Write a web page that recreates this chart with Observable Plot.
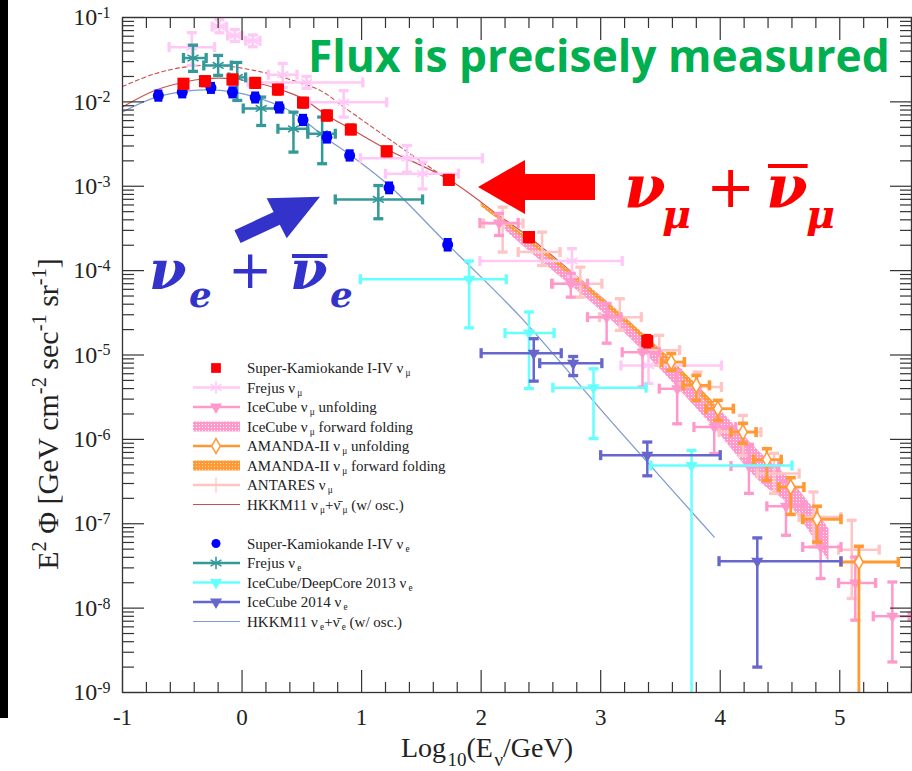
<!DOCTYPE html>
<html>
<head>
<meta charset="utf-8">
<script src="https://cdn.jsdelivr.net/npm/d3@7"></script>
<script src="https://cdn.jsdelivr.net/npm/@observablehq/plot@0.6"></script>
<style>
  html, body { margin: 0; padding: 0; background: #fff; }
  #wrap { position: relative; width: 912px; height: 771px; overflow: hidden; }
  #bar { position: absolute; left: 0; top: 0; width: 8px; height: 718px; background: #000; }
</style>
</head>
<body>
<svg width="0" height="0" style="position:absolute">
  <defs>
    <pattern id="pinkHatch" width="3" height="3" patternUnits="userSpaceOnUse">
      <rect width="3" height="3" fill="#ff99cc"></rect>
      <rect x="1" y="1" width="1" height="1" fill="#ffffff"></rect>
    </pattern>
    <pattern id="orangeHatch" width="3" height="3" patternUnits="userSpaceOnUse">
      <rect width="3" height="3" fill="#ff9933"></rect>
      <rect x="1" y="1" width="1" height="1" fill="#ffd9b3"></rect>
    </pattern>
  </defs>
</svg>
<div id="wrap"><div id="bar"></div></div>
<script>
// ---------------- axes ----------------
const xMajor = [-1, 0, 1, 2, 3, 4, 5];
const xTickLabels = ["-1", "0", "1", "2", "3", "4", "5"];
const yMajor = [1e-1, 1e-2, 1e-3, 1e-4, 1e-5, 1e-6, 1e-7, 1e-8, 1e-9];
const yTickExponents = ["-1", "-2", "-3", "-4", "-5", "-6", "-7", "-8", "-9"];

// ---------------- Super-Kamiokande I-IV nu_mu ----------------
const skMuX   = [-0.49, -0.31, -0.08, 0.11, 0.30, 0.51, 0.71, 0.91, 1.21, 1.73, 2.40, 3.39];
const skMuY   = [1.64e-2, 1.76e-2, 1.84e-2, 1.68e-2, 1.40e-2, 9.8e-3, 6.9e-3, 4.7e-3, 2.6e-3, 1.19e-3, 2.5e-4, 1.46e-5];
const skMuLo  = [1.45e-2, 1.56e-2, 1.63e-2, 1.49e-2, 1.24e-2, 8.7e-3, 6.1e-3, 4.2e-3, 2.3e-3, 1.06e-3, 2.2e-4, 1.25e-5];
const skMuHi  = [1.84e-2, 1.98e-2, 2.07e-2, 1.89e-2, 1.57e-2, 1.10e-2, 7.8e-3, 5.3e-3, 2.9e-3, 1.33e-3, 2.8e-4, 1.70e-5];

// ---------------- Frejus nu_mu ----------------
const frMuX   = [-0.42, -0.19, -0.06, 0.09, 0.34, 0.54, 0.85, 1.38, 1.51, 2.76, 3.40];
const frMuY   = [4.45e-2, 7.8e-2, 6.1e-2, 5.3e-2, 2.1e-2, 1.7e-2, 9.9e-3, 2.15e-3, 1.41e-3, 1.30e-4, 7.5e-6];
const frMuXlo = [-0.61, -0.25, -0.12, 0.03, 0.22, 0.05, 0.56, 0.99, 1.20, 1.99, 3.17];
const frMuXhi = [-0.23, -0.13, 0.00, 0.15, 0.46, 1.01, 1.21, 2.01, 1.81, 3.18, 4.01];
const frMuYlo = [2.7e-2, 6.6e-2, 5.2e-2, 4.5e-2, 1.48e-2, 1.45e-2, 6.6e-3, 1.47e-3, 9.3e-4, 8.5e-5, 4.6e-6];
const frMuYhi = [6.6e-2, 9.4e-2, 7.2e-2, 6.2e-2, 2.85e-2, 2.0e-2, 1.36e-2, 3.04e-3, 1.93e-3, 1.82e-4, 1.12e-5];

// ---------------- IceCube nu_mu unfolding ----------------
const icUnfX   = [2.15, 2.75, 3.05, 3.35, 3.64, 3.95, 4.24, 4.55, 4.84, 5.13, 5.44];
const icUnfY   = [3.67e-4, 7.0e-5, 2.81e-5, 1.08e-5, 3.99e-6, 1.40e-6, 4.82e-7, 1.61e-7, 5.3e-8, 1.99e-8, 8.0e-9];
const icUnfXlo = [1.99, 2.59, 2.89, 3.18, 3.49, 3.78, 4.09, 4.39, 4.69, 4.99, 5.28];
const icUnfXhi = [2.31, 2.89, 3.17, 3.49, 3.83, 4.13, 4.49, 4.70, 5.01, 5.30, 5.58];
const icUnfYlo = [2.61e-4, 4.85e-5, 1.38e-5, 4.17e-6, 1.53e-6, 6.8e-7, 2.29e-7, 7.3e-8, 2.24e-8, 7.2e-9, 2.30e-9];
const icUnfYhi = [4.77e-4, 9.3e-5, 4.08e-5, 1.37e-5, 6.58e-6, 2.21e-6, 8.73e-7, 3.12e-7, 8.4e-8, 4.04e-8, 2.04e-8];

// ---------------- IceCube nu_mu forward folding (band) ----------------
const icFfX  = [2.20, 2.47, 3.10, 3.91, 4.33, 4.58, 4.91];
const icFfY1 = [3.72e-4, 2.00e-4, 3.80e-5, 3.02e-6, 7.08e-7, 3.39e-7, 8.71e-8];
const icFfY2 = [3.02e-4, 1.41e-4, 2.51e-5, 1.58e-6, 3.16e-7, 1.66e-7, 3.55e-8];

// ---------------- AMANDA-II nu_mu unfolding ----------------
const amUnfX   = [3.59, 3.80, 3.98, 4.19, 4.39, 4.59, 4.81, 5.16];
const amUnfY   = [8.24e-6, 4.37e-6, 2.31e-6, 1.22e-6, 5.75e-7, 2.72e-7, 1.13e-7, 3.52e-8];
const amUnfXlo = [3.51, 3.69, 3.88, 4.09, 4.28, 4.49, 4.69, 5.01];
const amUnfXhi = [3.70, 3.91, 4.11, 4.30, 4.51, 4.70, 5.01, 5.49];
const amUnfYlo = [6.58e-6, 2.90e-6, 1.68e-6, 8.97e-7, 3.27e-7, 1.29e-7, 6.07e-8, 1e-10];
const amUnfYhi = [1.04e-5, 5.73e-6, 2.90e-6, 1.55e-6, 7.76e-7, 3.52e-7, 1.61e-7, 5.40e-8];

// ---------------- AMANDA-II nu_mu forward folding (band) ----------------
const amFfX  = [2.00, 2.50, 3.00, 3.50, 3.95];
const amFfY1 = [6.31e-4, 1.86e-4, 4.90e-5, 1.17e-5, 2.75e-6];
const amFfY2 = [5.75e-4, 1.66e-4, 4.27e-5, 1.00e-5, 2.24e-6];

// ---------------- ANTARES nu_mu ----------------
const antX   = [2.18, 2.51, 2.83, 3.16, 3.49, 3.81, 4.19, 4.45, 4.78, 5.10];
const antY   = [3.62e-4, 1.66e-4, 7.0e-5, 2.81e-5, 1.14e-5, 4.17e-6, 1.22e-6, 3.93e-7, 1.20e-7, 4.93e-8];
const antXlo = [2.02, 2.31, 2.60, 2.99, 3.33, 3.66, 3.99, 4.31, 4.66, 4.99];
const antXhi = [2.35, 2.66, 3.01, 3.34, 3.66, 4.01, 4.34, 4.66, 5.01, 5.33];
const antYlo = [1.66e-4, 1.15e-4, 4.85e-5, 1.96e-5, 7.53e-6, 2.90e-6, 6.46e-7, 2.29e-7, 5.30e-8, 1.30e-8];
const antYhi = [5.65e-4, 2.86e-4, 1.10e-4, 4.65e-5, 1.71e-5, 6.27e-6, 1.92e-6, 6.82e-7, 2.38e-7, 1.10e-7];

// ---------------- HKKM11 nu_mu + anti-nu_mu ----------------
const hkkmMuX = [-1.0, -0.73, -0.49, -0.31, -0.08, 0.10, 0.30, 0.51, 0.71, 0.91, 1.21, 1.73, 2.16, 2.40, 3.10, 3.50, 4.00];
const hkkmMuY = [8.71e-3, 1.365e-2, 1.71e-2, 1.88e-2, 1.88e-2, 1.71e-2, 1.43e-2, 1.09e-2, 6.9e-3, 4.8e-3, 2.75e-3, 1.20e-3, 4.37e-4, 2.51e-4, 3.55e-5, 9.3e-6, 2.0e-6];
// dashed companion curve at low energy
const hkkmMuDashX = [-1.0, -0.73, -0.45, -0.18, 0.10, 0.38, 0.66, 0.85, 1.19, 1.41, 1.66, 1.73];
const hkkmMuDashY = [1.52e-2, 2.15e-2, 2.62e-2, 2.70e-2, 2.36e-2, 1.88e-2, 1.35e-2, 8.7e-3, 3.98e-3, 2.40e-3, 1.38e-3, 1.20e-3];

// ---------------- Super-Kamiokande I-IV nu_e ----------------
const skEX  = [-0.70, -0.50, -0.26, -0.08, 0.11, 0.31, 0.51, 0.71, 0.90, 1.23, 1.72];
const skEY  = [1.19e-2, 1.30e-2, 1.47e-2, 1.30e-2, 1.13e-2, 8.6e-3, 6.1e-3, 3.8e-3, 2.32e-3, 9.6e-4, 2.03e-4];
const skELo = [1.05e-2, 1.15e-2, 1.30e-2, 1.15e-2, 1.00e-2, 7.6e-3, 5.4e-3, 3.35e-3, 2.05e-3, 8.4e-4, 1.76e-4];
const skEHi = [1.34e-2, 1.46e-2, 1.65e-2, 1.46e-2, 1.27e-2, 9.7e-3, 6.9e-3, 4.3e-3, 2.62e-3, 1.09e-3, 2.33e-4];

// ---------------- Frejus nu_e ----------------
const frEX   = [-0.41, -0.20, -0.04, 0.16, 0.43, 0.67, 1.14];
const frEY   = [3.31e-2, 2.70e-2, 1.95e-2, 8.35e-3, 4.8e-3, 4.19e-3, 6.98e-4];
const frEXlo = [-0.49, -0.32, -0.11, 0.01, 0.30, 0.55, 0.78];
const frEXhi = [-0.30, -0.09, 0.03, 0.34, 0.55, 0.78, 1.51];
const frEYlo = [2.3e-2, 2.06e-2, 1.04e-2, 5.25e-3, 2.54e-3, 1.85e-3, 4.12e-4];
const frEYhi = [4.7e-2, 3.55e-2, 2.93e-2, 1.14e-2, 7.55e-3, 6.6e-3, 1.02e-3];

// ---------------- IceCube/DeepCore 2013 nu_e ----------------
const dcX   = [1.90, 2.40, 2.94, 3.76];
const dcY   = [7.9e-5, 1.82e-5, 4.1e-6, 4.9e-7];
const dcXlo = [0.99, 2.20, 2.60, 3.42];
const dcXhi = [2.21, 2.61, 3.38, 4.60];
const dcYlo = [2.1e-5, 4.0e-6, 1.02e-6, 1e-10];
const dcYhi = [1.30e-4, 3.24e-5, 6.87e-6, 7.4e-7];

// ---------------- IceCube 2014 nu_e ----------------
const ic14X   = [2.44, 2.77, 3.39, 4.31];
const ic14Y   = [1.05e-5, 8.0e-6, 6.5e-7, 3.6e-8];
const ic14Xlo = [2.00, 2.49, 3.00, 3.99];
const ic14Xhi = [2.67, 3.01, 4.00, 5.01];
const ic14Ylo = [4.9e-6, 5.7e-6, 3.7e-7, 2.0e-9];
const ic14Yhi = [1.56e-5, 9.6e-6, 9.3e-7, 6.8e-8];

// ---------------- HKKM11 nu_e + anti-nu_e ----------------
const hkkmEX = [-1.0, -0.73, -0.45, -0.18, 0.10, 0.38, 0.52, 0.71, 0.91, 1.23, 1.71, 2.33, 3.08, 3.66, 3.95];
const hkkmEY = [7.59e-3, 1.12e-2, 1.35e-2, 1.365e-2, 1.15e-2, 8.13e-3, 6.03e-3, 3.66e-3, 2.32e-3, 1.02e-3, 2.12e-4, 2.81e-5, 1.68e-6, 2.0e-7, 6.95e-8];

// ---------------- colours ----------------
const C = {
  skMu: "#ff0000", frMu: "#ffc8f6", icUnf: "#ff99cc", icFf: "#ff99cc",
  amUnf: "#ff9933", amFf: "#ff9933", ant: "#ffc4c4", hkkmMu: "#c85050",
  skE: "#0000ff", frE: "#339999", dc: "#66ffff", ic14: "#6666cc", hkkmE: "#7f9bd0"
};

// ---------------- helpers ----------------
const rows = (x, y, xlo, xhi, ylo, yhi) =>
  x.map((v, i) => ({x: v, y: y[i], xlo: xlo ? xlo[i] : null, xhi: xhi ? xhi[i] : null,
                    ylo: ylo ? ylo[i] : null, yhi: yhi ? yhi[i] : null}));
const capV = {draw(ctx, size) { const h = Math.sqrt(size / Math.PI); ctx.moveTo(0, -h); ctx.lineTo(0, h); }};
const capH = {draw(ctx, size) { const h = Math.sqrt(size / Math.PI); ctx.moveTo(-h, 0); ctx.lineTo(h, 0); }};

function errorMarks(data, color, w = 2.5, cap = 5) {
  const hx = data.filter(d => d.xlo != null);
  const hy = data.filter(d => d.ylo != null);
  const s = {stroke: color, strokeWidth: w, clip: true};
  return [
    Plot.ruleY(hx, {y: "y", x1: "xlo", x2: "xhi", ...s}),
    Plot.ruleX(hy, {x: "x", y1: "ylo", y2: "yhi", ...s}),
    Plot.dot(hx, {x: "xlo", y: "y", symbol: capV, r: cap, ...s, strokeWidth: w + 0.8}),
    Plot.dot(hx, {x: "xhi", y: "y", symbol: capV, r: cap, ...s, strokeWidth: w + 0.8}),
    Plot.dot(hy, {x: "x", y: "ylo", symbol: capH, r: cap, ...s, strokeWidth: w + 0.8}),
    Plot.dot(hy, {x: "x", y: "yhi", symbol: capH, r: cap, ...s, strokeWidth: w + 0.8})
  ];
}

const skMu = rows(skMuX, skMuY, null, null, skMuLo, skMuHi);
const frMu = rows(frMuX, frMuY, frMuXlo, frMuXhi, frMuYlo, frMuYhi);
const icUnf = rows(icUnfX, icUnfY, icUnfXlo, icUnfXhi, icUnfYlo, icUnfYhi);
const amUnf = rows(amUnfX, amUnfY, amUnfXlo, amUnfXhi, amUnfYlo, amUnfYhi);
const ant = rows(antX, antY, antXlo, antXhi, antYlo, antYhi);
const skE = rows(skEX, skEY, null, null, skELo, skEHi);
const frE = rows(frEX, frEY, frEXlo, frEXhi, frEYlo, frEYhi);
const dc = rows(dcX, dcY, dcXlo, dcXhi, dcYlo, dcYhi);
const ic14 = rows(ic14X, ic14Y, ic14Xlo, ic14Xhi, ic14Ylo, ic14Yhi);
const icFf = icFfX.map((x, i) => ({x, y1: icFfY1[i], y2: icFfY2[i]}));
const amFf = amFfX.map((x, i) => ({x, y1: amFfY1[i], y2: amFfY2[i]}));
const hkkmMu = hkkmMuX.map((x, i) => ({x, y: hkkmMuY[i]}));
const hkkmMuDash = hkkmMuDashX.map((x, i) => ({x, y: hkkmMuDashY[i]}));
const hkkmE = hkkmEX.map((x, i) => ({x, y: hkkmEY[i]}));

// minor tick positions
const xMinor = d3.range(-1, 5.61, 0.2).map(v => +v.toFixed(1)).filter(v => !xMajor.includes(v));
const yMinor = d3.range(-9, -1).flatMap(e => d3.range(2, 10).map(m => m * Math.pow(10, e)));

const tickStyle = {stroke: "#333", strokeWidth: 1.2, label: null, tickFormat: () => ""};

const plot = Plot.plot({
  width: 912, height: 771,
  marginLeft: 122, marginRight: 1, marginTop: 17, marginBottom: 79,
  style: {fontFamily: "'Liberation Serif', serif", background: "transparent", color: "#222"},
  x: {domain: [-1, 5.6]},
  y: {type: "log", domain: [1e-9, 1e-1]},
  marks: [
    // theory curves
    Plot.line(hkkmMuDash, {x: "x", y: "y", stroke: C.hkkmMu, strokeWidth: 1.1, strokeDasharray: "4,3", curve: "catmull-rom"}),
    Plot.line(hkkmE, {x: "x", y: "y", stroke: C.hkkmE, strokeWidth: 1.3, curve: "catmull-rom"}),
    Plot.line(hkkmMu, {x: "x", y: "y", stroke: C.hkkmMu, strokeWidth: 1.2, curve: "catmull-rom"}),
    // forward-folding bands
    Plot.areaY(icFf, {x: "x", y1: "y1", y2: "y2", fill: "url(#pinkHatch)", curve: "catmull-rom"}),
    Plot.areaY(amFf, {x: "x", y1: "y1", y2: "y2", fill: "url(#orangeHatch)", curve: "catmull-rom"}),
    // Frejus nu_mu
    ...errorMarks(frMu, C.frMu, 2.5, 5),
    Plot.dot(frMu, {x: "x", y: "y", symbol: "asterisk", r: 6, stroke: C.frMu, strokeWidth: 1.6}),
    // ANTARES
    ...errorMarks(ant, C.ant, 2.5, 5),
    Plot.dot(ant, {x: "x", y: "y", symbol: "plus", r: 5, stroke: C.ant, strokeWidth: 1.5}),
    // IceCube unfolding
    ...errorMarks(icUnf, C.icUnf, 2.5, 5),
    Plot.dot(icUnf, {x: "x", y: "y", symbol: "triangle", rotate: 180, r: 4.5, fill: C.icUnf}),
    // AMANDA-II unfolding
    ...errorMarks(amUnf, C.amUnf, 2.8, 5),
    Plot.dot(amUnf, {x: "x", y: "y", symbol: "diamond", r: 4.5, fill: "white", stroke: C.amUnf, strokeWidth: 1.5}),
    // Frejus nu_e
    ...errorMarks(frE, C.frE, 2.5, 5),
    Plot.dot(frE, {x: "x", y: "y", symbol: "asterisk", r: 6, stroke: C.frE, strokeWidth: 1.6}),
    // IceCube/DeepCore 2013
    ...errorMarks(dc, C.dc, 2.5, 5),
    Plot.dot(dc, {x: "x", y: "y", symbol: "triangle", rotate: 180, r: 4.5, fill: C.dc}),
    // IceCube 2014
    ...errorMarks(ic14, C.ic14, 2.5, 5),
    Plot.dot(ic14, {x: "x", y: "y", symbol: "triangle", rotate: 180, r: 4.5, fill: C.ic14}),
    // Super-K nu_e
    ...errorMarks(skE, C.skE, 2.5, 4),
    Plot.dot(skE, {x: "x", y: "y", symbol: "circle", r: 5.5, fill: C.skE}),
    // Super-K nu_mu
    ...errorMarks(skMu, C.skMu, 2.5, 4),
    Plot.dot(skMu, {x: "x", y: "y", symbol: "square", r: 6.8, fill: C.skMu}),
    // frame and ticks
    Plot.frame({stroke: "#333", strokeWidth: 1.3}),
    Plot.axisX({anchor: "bottom", ticks: xMajor, tickSize: -22, ...tickStyle}),
    Plot.axisX({anchor: "bottom", ticks: xMinor, tickSize: -10, ...tickStyle}),
    Plot.axisX({anchor: "top", ticks: xMajor, tickSize: -22, ...tickStyle}),
    Plot.axisX({anchor: "top", ticks: xMinor, tickSize: -10, ...tickStyle}),
    Plot.axisY({anchor: "left", ticks: yMajor, tickSize: -22, ...tickStyle}),
    Plot.axisY({anchor: "left", ticks: yMinor, tickSize: -12, ...tickStyle}),
    Plot.axisY({anchor: "right", ticks: yMajor, tickSize: -22, ...tickStyle}),
    Plot.axisY({anchor: "right", ticks: yMinor, tickSize: -12, ...tickStyle}),
    // tick labels
    Plot.axisX({anchor: "bottom", ticks: xMajor, tickSize: 0, tickPadding: 16, fontSize: 23, label: null,
                tickFormat: d => xTickLabels[xMajor.indexOf(d)]}),
    Plot.axisY({anchor: "left", ticks: yMajor, tickSize: 0, tickPadding: 12, fontSize: 24, label: null,
                tickFormat: d => "10^" + yTickExponents[yMajor.indexOf(d)]})
  ]
});

document.getElementById("wrap").prepend(plot);

// superscript exponents on the y tick labels
const NS = "http://www.w3.org/2000/svg";
plot.querySelectorAll('[aria-label="y-axis tick label"] text').forEach(t => {
  const [base, exp] = t.textContent.split("^");
  if (exp === undefined) return;
  t.textContent = base;
  const s = document.createElementNS(NS, "tspan");
  s.setAttribute("dy", "-0.45em");
  s.setAttribute("font-size", "16");
  s.textContent = exp;
  t.appendChild(s);
});

const svg = d3.select(plot);

// rich text helper: parts = [[text, "sub"|"sup"|null], ...]
function richText(g, parts, x, y, size, attrs = {}, opt = {}) {
  const {subShift = 0.32, supShift = 0.4, scale = 0.68, subGap = 0.1} = opt;
  const t = g.append("text").attr("x", x).attr("y", y).attr("font-size", size).attr("text-anchor", "start");
  Object.entries(attrs).forEach(([k, v]) => t.attr(k, v));
  let shift = 0;
  parts.forEach(([txt, kind]) => {
    const target = kind === "sub" ? subShift * size : kind === "sup" ? -supShift * size : 0;
    const sp = t.append("tspan").text(txt).attr("dy", target - shift);
    if (kind) sp.attr("font-size", scale * size).attr("dx", kind === "sub" ? subGap * size : 0);
    shift = target;
  });
  return t;
}

// axis titles
richText(svg, [["Log", null], ["10", "sub"], ["(E", null], ["ν", "sub"], ["/GeV)", null]], 487, 757, 28,
  {"text-anchor": "middle", "font-family": "'Liberation Serif', serif", fill: "#222"}, {subGap: 0.05});
const yt = svg.append("g").attr("transform", "translate(58,414) rotate(-90)");
richText(yt, [["E", null], ["2", "sup"], [" Φ [GeV cm", null], ["-2", "sup"], [" sec", null], ["-1", "sup"], [" sr", null], ["-1", "sup"], ["]", null]], 0, 0, 30,
  {"text-anchor": "middle", "font-family": "'Liberation Serif', serif", fill: "#222"});

// legend
const legendItems = [
  {kind: "square", color: C.skMu, parts: [["Super-Kamiokande I-IV ν", null], ["μ", "sub"]]},
  {kind: "asterisk", color: C.frMu, parts: [["Frejus ν", null], ["μ", "sub"]]},
  {kind: "triangle", color: C.icUnf, parts: [["IceCube ν", null], ["μ", "sub"], [" unfolding", null]]},
  {kind: "band", color: "url(#pinkHatch)", parts: [["IceCube ν", null], ["μ", "sub"], [" forward folding", null]]},
  {kind: "diamond", color: C.amUnf, parts: [["AMANDA-II ν", null], ["μ", "sub"], [" unfolding", null]]},
  {kind: "band", color: "url(#orangeHatch)", parts: [["AMANDA-II ν", null], ["μ", "sub"], [" forward folding", null]]},
  {kind: "plus", color: C.ant, parts: [["ANTARES ν", null], ["μ", "sub"]]},
  {kind: "line", color: C.hkkmMu, parts: [["HKKM11 ν", null], ["μ", "sub"], ["+ν̄", null], ["μ", "sub"], [" (w/ osc.)", null]]},
  null,
  {kind: "circle", color: C.skE, parts: [["Super-Kamiokande I-IV ν", null], ["e", "sub"]]},
  {kind: "asterisk", color: C.frE, parts: [["Frejus ν", null], ["e", "sub"]]},
  {kind: "triangle", color: C.dc, parts: [["IceCube/DeepCore 2013 ν", null], ["e", "sub"]]},
  {kind: "triangle", color: C.ic14, parts: [["IceCube 2014 ν", null], ["e", "sub"]]},
  {kind: "line", color: C.hkkmE, parts: [["HKKM11 ν", null], ["e", "sub"], ["+ν̄", null], ["e", "sub"], [" (w/ osc.)", null]]}
];
const lg = svg.append("g").attr("font-family", "'Liberation Serif', serif").attr("fill", "#222").attr("text-anchor", "start");
const lx0 = 193, lx1 = 240, lxm = 216, ly0 = 368, ldy = 19.5;
legendItems.forEach((it, i) => {
  if (!it) return;
  const cy = ly0 + i * ldy;
  const sym = (type, r) => d3.symbol(type, Math.PI * r * r)();
  if (it.kind === "square") {
    lg.append("path").attr("d", sym(d3.symbolSquare, 5.5)).attr("transform", `translate(${lxm},${cy})`).attr("fill", it.color);
  } else if (it.kind === "circle") {
    lg.append("path").attr("d", sym(d3.symbolCircle, 4.5)).attr("transform", `translate(${lxm},${cy})`).attr("fill", it.color);
  } else if (it.kind === "band") {
    lg.append("rect").attr("x", lx0).attr("y", cy - 5).attr("width", lx1 - lx0).attr("height", 10).attr("fill", it.color);
  } else {
    lg.append("line").attr("x1", lx0).attr("x2", lx1).attr("y1", cy).attr("y2", cy)
      .attr("stroke", it.color).attr("stroke-width", it.kind === "line" ? 1.2 : 2.5);
    if (it.kind === "asterisk") {
      lg.append("path").attr("d", sym(d3.symbolAsterisk, 6)).attr("transform", `translate(${lxm},${cy})`)
        .attr("stroke", it.color).attr("stroke-width", 1.6).attr("fill", "none");
    } else if (it.kind === "triangle") {
      lg.append("path").attr("d", sym(d3.symbolTriangle, 4.5)).attr("transform", `translate(${lxm},${cy}) rotate(180)`).attr("fill", it.color);
    } else if (it.kind === "diamond") {
      lg.append("path").attr("d", sym(d3.symbolDiamond, 4.5)).attr("transform", `translate(${lxm},${cy})`)
        .attr("fill", "white").attr("stroke", it.color).attr("stroke-width", 1.5);
    } else if (it.kind === "plus") {
      lg.append("path").attr("d", sym(d3.symbolPlus, 5)).attr("transform", `translate(${lxm},${cy})`)
        .attr("fill", "white").attr("stroke", it.color).attr("stroke-width", 1.2);
    }
  }
  richText(lg, it.parts, 247, cy + 5, 15, {}, {subShift: 0.22, scale: 0.62, subGap: 0.15});
});

// annotations
const ann = svg.append("g").attr("text-anchor", "start");
const flux = ann.append("text").attr("x", 308).attr("y", 72).attr("font-size", 42)
  .attr("font-family", "'Open Sans', sans-serif").attr("font-weight", "bold").attr("fill", "#00b050")
  .text("Flux is precisely measured");
const fl = flux.node().getComputedTextLength();
flux.attr("font-size", 42 * 582 / fl);

// flavour label: nu_sub + nu-bar_sub, pieces placed at given x positions
function nuLabel(xs, base, sub, color, size, barY) {
  const g = ann.append("g").attr("fill", color).attr("font-family", "'DejaVu Serif', serif")
    .attr("font-style", "italic").attr("font-weight", "bold");
  g.append("text").attr("x", xs[0]).attr("y", base).attr("font-size", size).text("ν");
  g.append("text").attr("x", xs[1]).attr("y", base + size * 0.33).attr("font-size", size * 0.66).text(sub);
  g.append("text").attr("x", xs[2]).attr("y", base - 1).attr("font-size", size * 0.98)
    .attr("font-style", "normal").attr("font-weight", "normal").attr("font-family", "'DejaVu Sans', sans-serif").text("+");
  const t2 = g.append("text").attr("x", xs[3]).attr("y", base).attr("font-size", size).text("ν");
  const w2 = t2.node().getComputedTextLength();
  g.append("rect").attr("x", xs[3] + 2).attr("y", barY).attr("width", w2 - 2).attr("height", 4);
  g.append("text").attr("x", xs[4]).attr("y", base + size * 0.33).attr("font-size", size * 0.66).text(sub);
}
nuLabel([624, 662, 706, 766, 806], 208, "μ", "#ff0000", 60, 164);
nuLabel([149, 189, 228, 290, 330], 289, "e", "#3333cc", 54, 254);

// arrows
ann.append("polygon").attr("fill", "#ff0000")
  .attr("points", "478,187 525,160 525,174 595,174 595,200 525,200 525,214");
ann.append("polygon").attr("fill", "#3333cc")
  .attr("points", "234.4,230.3 273.6,211.9 266.7,198.3 320,196.7 286.7,238.3 279.8,224.7 240.6,243.1");
</script>
</body>
</html>
